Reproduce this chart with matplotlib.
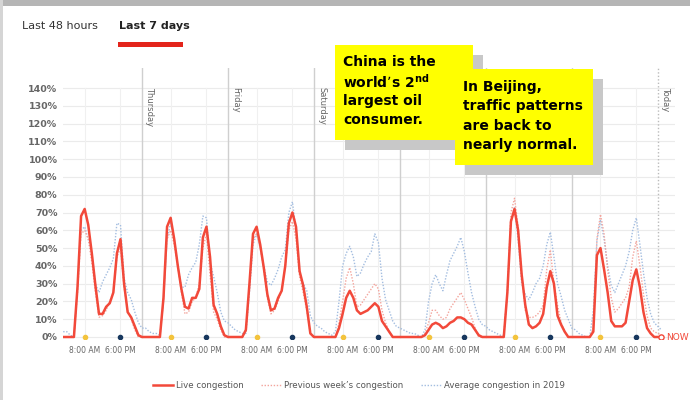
import numpy as np
import matplotlib
matplotlib.use("Agg")
import matplotlib.pyplot as plt
from matplotlib.patches import Rectangle

# hourly congestion (%), one list of 24 values per day, Wed .. Tue, then today 0h/1h
live_days = [
    [0, 0, 0, 0, 0, 0, 28, 68, 72, 63, 47, 29, 13, 13, 17, 19, 25, 47, 55, 30, 14, 11, 6, 1],
    [0, 0, 0, 0, 0, 0, 22, 62, 67, 55, 40, 27, 17, 16, 22, 22, 27, 56, 62, 45, 18, 13, 6, 1],
    [0, 0, 0, 0, 0, 4, 30, 58, 62, 52, 39, 24, 15, 16, 22, 26, 40, 64, 70, 62, 37, 29, 17, 2],
    [0, 0, 0, 0, 0, 0, 0, 5, 13, 22, 26, 22, 15, 13, 14, 15, 17, 19, 17, 9, 6, 3, 0, 0],
    [0, 0, 0, 0, 0, 0, 0, 1, 4, 7, 8, 7, 5, 6, 8, 9, 11, 11, 10, 8, 7, 4, 1, 0],
    [0, 0, 0, 0, 0, 0, 25, 65, 72, 60, 35, 18, 7, 5, 6, 8, 13, 28, 37, 30, 12, 7, 3, 0],
    [0, 0, 0, 0, 0, 0, 3, 46, 50, 38, 25, 9, 6, 6, 6, 8, 20, 32, 38, 28, 14, 5, 2, 0],
    [0, 0],
]
prev_days = [
    [0, 0, 0, 0, 0, 0, 25, 58, 60, 55, 42, 25, 11, 12, 15, 20, 25, 45, 50, 28, 15, 10, 4, 0],
    [0, 0, 0, 0, 0, 0, 20, 55, 60, 52, 40, 25, 13, 14, 20, 22, 30, 50, 58, 35, 14, 10, 4, 0],
    [0, 0, 0, 0, 0, 3, 28, 55, 58, 50, 38, 22, 13, 15, 20, 26, 40, 60, 65, 55, 34, 25, 15, 2],
    [0, 0, 0, 0, 0, 0, 0, 8, 20, 33, 39, 30, 17, 18, 21, 24, 27, 30, 27, 15, 8, 3, 0, 0],
    [0, 0, 0, 0, 0, 0, 0, 2, 8, 15, 15, 12, 10, 11, 16, 19, 22, 25, 21, 16, 11, 5, 0, 0],
    [0, 0, 0, 0, 0, 0, 25, 70, 78, 62, 35, 15, 11, 11, 12, 14, 18, 38, 49, 30, 18, 8, 3, 0],
    [0, 0, 0, 0, 0, 0, 5, 55, 69, 58, 38, 22, 14, 16, 19, 22, 28, 45, 54, 40, 24, 12, 5, 3],
    [2, 1],
]
avg_days = [
    [4, 4, 3, 3, 1, 0, 28, 60, 62, 55, 47, 30, 25, 31, 35, 39, 44, 64, 63, 33, 25, 21, 14, 8],
    [5, 5, 3, 2, 2, 1, 20, 55, 64, 55, 40, 28, 28, 35, 39, 42, 52, 68, 67, 42, 34, 25, 14, 9],
    [8, 6, 4, 3, 2, 2, 25, 52, 58, 50, 40, 31, 29, 33, 38, 45, 49, 70, 76, 60, 36, 30, 26, 12],
    [8, 6, 5, 3, 2, 1, 3, 20, 40, 47, 51, 45, 34, 36, 41, 45, 48, 58, 53, 33, 21, 15, 9, 6],
    [5, 4, 3, 2, 2, 1, 0, 4, 20, 30, 35, 30, 26, 35, 43, 47, 51, 56, 48, 36, 25, 17, 10, 7],
    [6, 4, 3, 2, 1, 1, 25, 65, 73, 55, 30, 24, 21, 25, 30, 33, 40, 52, 59, 45, 30, 23, 15, 10],
    [5, 4, 2, 1, 0, 0, 15, 54, 66, 55, 40, 29, 25, 30, 35, 40, 48, 60, 67, 52, 36, 22, 13, 8],
    [6, 4],
]
# only these day labels are visible; the rest sit behind the callouts
day_names = ["Thursday", "Friday", "Saturday"]
yticks = list(range(0, 150, 10))

live = sum(live_days, [])
prev = sum(prev_days, [])
avg = sum(avg_days, [])
hours = np.arange(len(live))
start = 2  # chart begins ~7 days before "now"

W, H = 690, 400
fig = plt.figure(figsize=(W / 100, H / 100), dpi=100)
fig.patch.set_facecolor("white")


def fx(px):
    return px / W


def fy(py):
    return 1 - py / H


# axes: 0% at y=337px, 140% at y=88px
ppu = (337 - 88) / 140.0
y_lo, y_hi = -1, 151
ax_bottom = 337 + (0 - y_lo) * ppu
ax_top = 337 - y_hi * ppu
ax = fig.add_axes([fx(63), fy(ax_bottom), fx(675) - fx(63), (ax_bottom - ax_top) / H])
ax.set_xlim(1.95, 172.8)
ax.set_ylim(y_lo, y_hi)
for s in ax.spines.values():
    s.set_visible(False)

# grid
for v in yticks:
    ax.plot([1.95, 172.8], [v, v], color="#ebebeb", lw=0.8, zorder=0)
days = list(range(0, 168, 24))
for d in days:
    for hh in (8, 18):
        ax.plot([d + hh, d + hh], [0, 140], color="#f0f0f0", lw=0.8, zorder=0)
for d in range(24, 168, 24):
    ax.plot([d, d], [0, y_hi], color="#cfcfcf", lw=1.0, zorder=1)
for i, name in enumerate(day_names):
    d = 24 * (i + 1)
    ax.text(d + 0.9, 140.5, name, rotation=270, va="top", ha="left",
            fontsize=6, color="#666666")
ax.plot([168, 168], [0, y_hi], color="#bbbbbb", lw=1.0, ls=(0, (1, 1.5)), zorder=1)
ax.text(168 + 0.9, 140.5, "Today", rotation=270, va="top", ha="left",
        fontsize=6, color="#666666")

# series
ax.plot(hours[start:], avg[start:], color="#a3bde0", lw=1.0, ls=(0, (1, 1.2)), zorder=3)
ax.plot(hours[start:], prev[start:], color="#f3a49c", lw=1.0, ls=(0, (1, 1.2)), zorder=4)
ax.plot(hours[start:], live[start:], color="#f2493a", lw=1.8, zorder=5,
        solid_joinstyle="round")

# 8 AM / 6 PM markers
ax.scatter([d + 8 for d in days], [0] * len(days), s=9, color="#f3c33c", zorder=6)
ax.scatter([d + 18 for d in days], [0] * len(days), s=9, color="#17375e", zorder=6)
ax.scatter([hours[-1]], [0], s=14, facecolor="white", edgecolor="#f2493a", lw=1.0, zorder=7)
ax.text(hours[-1] + 1.3, 0, "NOW", color="#f2493a", fontsize=6.5, va="center", ha="left")

# ticks
xt = []
xl = []
for d in days:
    xt += [d + 8, d + 18]
    xl += ["8:00 AM", "6:00 PM"]
ax.set_xticks(xt)
ax.set_xticklabels(xl, fontsize=5.5, color="#666666")
ax.set_yticks(yticks)
ax.set_yticklabels([f"{v}%" for v in yticks], fontsize=6.8, color="#666666", fontweight="bold")
ax.tick_params(length=0, pad=5)
ax.tick_params(axis="y", pad=4)

# legend
ax.plot([], [], color="#f2493a", lw=1.8, label="Live congestion")
ax.plot([], [], color="#f3a49c", lw=1.0, ls=(0, (1, 1.2)), label="Previous week\u2019s congestion")
ax.plot([], [], color="#a3bde0", lw=1.0, ls=(0, (1, 1.2)), label="Average congestion in 2019")
h_, l_ = ax.get_legend_handles_labels()
fig.legend(h_, l_, loc="center", bbox_to_anchor=(fx(359), fy(386)), ncol=3, frameon=False,
           fontsize=6.2, labelcolor="#555555", handlelength=2.3, columnspacing=2.0,
           handletextpad=0.4)

# frame bands
fig.add_artist(Rectangle((0, fy(6)), 1, 6 / H, transform=fig.transFigure,
                         color="#b5b5b5", lw=0))
fig.add_artist(Rectangle((0, 0), fx(3), 1, transform=fig.transFigure,
                         color="#d5d5d5", lw=0))

# tabs
fig.text(fx(22), fy(26), "Last 48 hours", fontsize=8, color="#333333", va="center")
fig.text(fx(119), fy(26), "Last 7 days", fontsize=8, color="#222222", va="center",
         fontweight="bold")
fig.add_artist(Rectangle((fx(118), fy(47)), fx(183) - fx(118), 5 / H,
                         transform=fig.transFigure, color="#e3241b", lw=0))


# callout boxes
def callout(x0, y0, x1, y1, lines, first_y, z):
    fig.add_artist(Rectangle((fx(x0 + 10), fy(y1 + 10)), fx(x1) - fx(x0), (y1 - y0) / H,
                             transform=fig.transFigure, color="#c8c8c8", lw=0, zorder=z))
    fig.add_artist(Rectangle((fx(x0), fy(y1)), fx(x1) - fx(x0), (y1 - y0) / H,
                             transform=fig.transFigure, color="#ffff00", lw=0, zorder=z + 0.1))
    for i, t in enumerate(lines):
        fig.text(fx(x0 + 8), fy(first_y + i * 19.3), t, fontsize=10, fontweight="bold",
                 color="black", va="center", ha="left", zorder=z + 0.2)


callout(335, 45, 473, 140,
        ["China is the", "world\u2019s 2$^{\\mathbf{nd}}$", "largest oil", "consumer."],
        62, 10)
callout(455, 69, 593, 165,
        ["In Beijing,", "traffic patterns", "are back to", "nearly normal."],
        87, 11)

fig.savefig("out.png", dpi=100)
